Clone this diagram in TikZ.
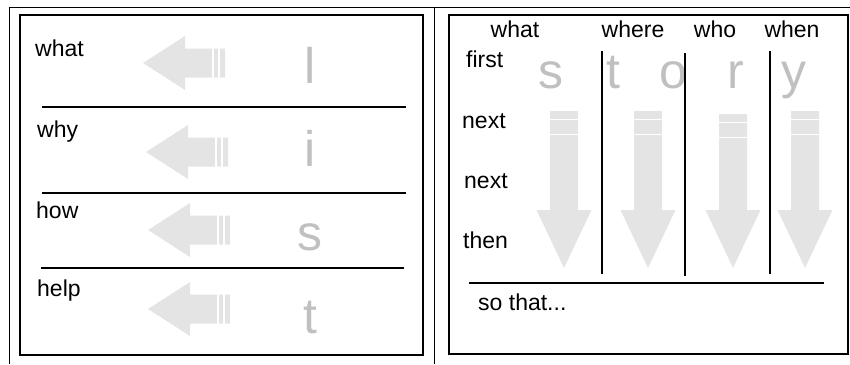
\documentclass[tikz,border=0pt]{standalone}
\usepackage{fontspec}
\setmainfont{Liberation Sans}
\definecolor{arrowfill}{HTML}{E4E4E4}
\definecolor{bigletter}{HTML}{C0C0C0}

\begin{document}
\begin{tikzpicture}[
  x=1pt, y=-1pt,
  frame/.style={draw, line width=1pt},
  panel/.style={draw, line width=1.8pt},
  rule/.style={draw, line width=1.4pt},
  word/.style={inner sep=0pt, font=\fontsize{23}{27}\selectfont},
  big/.style={inner sep=0pt, text=bigletter, font=\fontsize{50}{60}\selectfont},
  shade/.style={fill=arrowfill, draw=none},
  gap/.style={draw=white, line width=1.2pt}
]
\useasboundingbox (0,0) rectangle (850,364);

% outer table
\draw[frame] (9,364) -- (9,7) -- (850,7);
\draw[frame] (434,7) -- (434,364);

% left panel: list
\foreach \yc/\tx in {63/143, 152/146, 230/148, 309/148} {
  \fill[shade] (\tx,\yc) -- ++(42,-27) -- ++(0,12.5) -- ++(40,0) -- ++(0,29)
    -- ++(-40,0) -- ++(0,12.5) -- cycle;
  \draw[gap] (\tx+70,\yc-15) -- ++(0,30);
  \draw[gap] (\tx+76,\yc-15) -- ++(0,30);
}
\node[big, anchor=base] (bigL) at (310,83) {l};
\node[big, anchor=base] (bigI) at (310,166) {i};
\node[big, anchor=base] (bigS) at (310,250) {s};
\node[big, anchor=base] (bigT) at (310,333) {t};

\node[word, anchor=base west] (what) at (35,56) {what};
\node[word, anchor=base west] (why) at (37,137) {why};
\node[word, anchor=base west] (how) at (36,218) {how};
\node[word, anchor=base west] (help) at (37,296) {help};

\draw[rule] (42,107) -- (406,107);
\draw[rule] (42,193) -- (406,193);
\draw[rule] (41,268) -- (404,268);
\draw[panel] (20,15) rectangle (423,355);

% right panel: story
\foreach \xc/\top in {564/111, 648/111, 733/114, 805/111} {
  \fill[shade] (\xc,268) -- (\xc-27.5,210) -- (\xc-14,210) -- (\xc-14,\top)
    -- (\xc+14,\top) -- (\xc+14,210) -- (\xc+27.5,210) -- cycle;
  \draw[gap] (\xc-15,\top+8.5) -- ++(30,0);
  \draw[gap] (\xc-15,\top+23.5) -- ++(30,0);
}
\node[big, anchor=base] (bigS2) at (551,88) {s};
\node[big, anchor=base] (bigT2) at (613,88) {t};
\node[big, anchor=base] (bigO) at (673,88) {o};
\node[big, anchor=base] (bigR) at (736,88) {r};
\node[big, anchor=base] (bigY) at (794,88) {y};

\node[word, anchor=base] (colWhat) at (515,37) {what};
\node[word, anchor=base] (colWhere) at (633,37) {where};
\node[word, anchor=base] (colWho) at (715,37) {who};
\node[word, anchor=base] (colWhen) at (792,37) {when};

\node[word, anchor=base west] (rowFirst) at (466,67) {first};
\node[word, anchor=base west] (rowNext) at (462,128) {next};
\node[word, anchor=base west] (rowNext2) at (464,188) {next};
\node[word, anchor=base west] (rowThen) at (463,248) {then};
\node[word, anchor=base west] (soThat) at (478,310) {so that...};

\draw[rule] (602,51) -- (602,274);
\draw[rule] (685,53) -- (685,276);
\draw[rule] (770,51) -- (770,274);
\draw[rule] (469,283) -- (824,283);
\draw[panel] (449,15) rectangle (848,354);
\end{tikzpicture}
\end{document}
